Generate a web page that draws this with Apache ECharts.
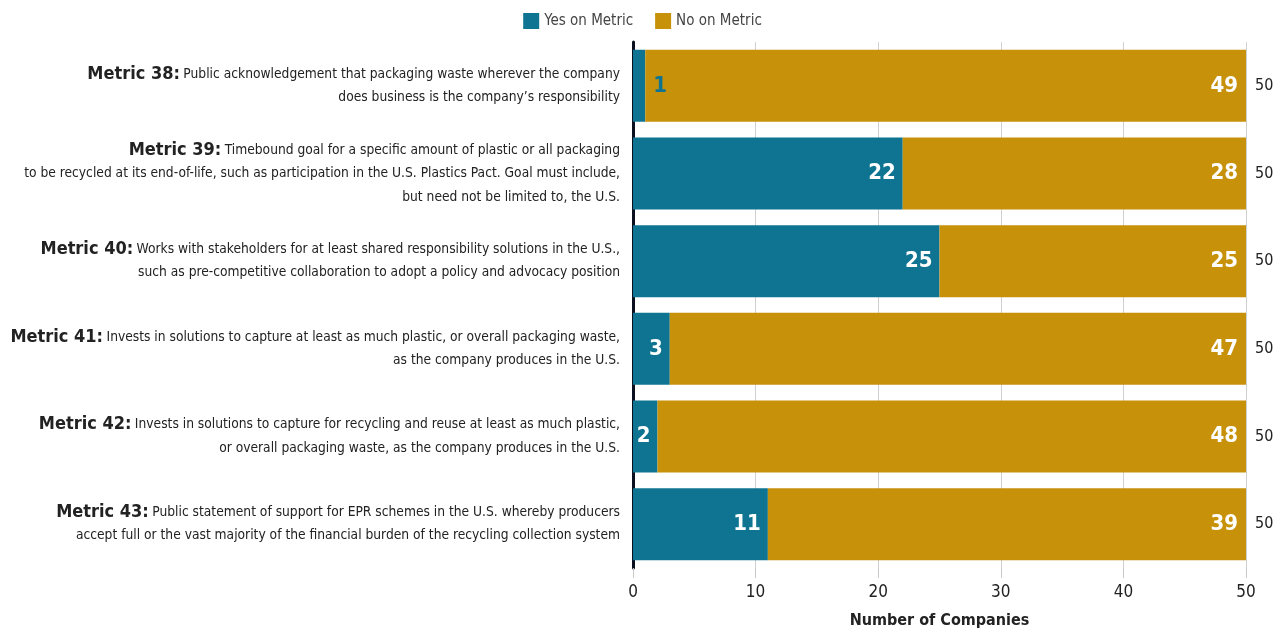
<!DOCTYPE html>
<html>
<head>
    <meta charset="UTF-8">
    <title>Packaging Metrics</title>
    <style>
        body{ margin:0; background-color:#ffffff; }
        #main{ width:1285px; height:632px; }
    </style>
    <script src="https://cdn.jsdelivr.net/npm/echarts@6/dist/echarts.min.js"></script>
</head>
<body>
<div id="main"></div>
<script type="text/javascript">
    // data
    var metricNames = ['Metric 38:', 'Metric 39:', 'Metric 40:', 'Metric 41:', 'Metric 42:', 'Metric 43:'];
    var metricText = [
        ['Public acknowledgement that packaging waste wherever the company', 'does business is the company\u2019s responsibility'],
        ['Timebound goal for a specific amount of plastic or all packaging', 'to be recycled at its end-of-life, such as participation in the U.S. Plastics Pact. Goal must include,', 'but need not be limited to, the U.S.'],
        ['Works with stakeholders for at least shared responsibility solutions in the U.S.,', 'such as pre-competitive collaboration to adopt a policy and advocacy position'],
        ['Invests in solutions to capture at least as much plastic, or overall packaging waste,', 'as the company produces in the U.S.'],
        ['Invests in solutions to capture for recycling and reuse at least as much plastic,', 'or overall packaging waste, as the company produces in the U.S.'],
        ['Public statement of support for EPR schemes in the U.S. whereby producers', 'accept full or the vast majority of the financial burden of the recycling collection system']
    ];
    var yesValues = [1, 22, 25, 3, 2, 11];
    var noValues = [49, 28, 25, 47, 48, 39];
    var xTicks = [0, 10, 20, 30, 40, 50];

    var FONT = "'Liberation Sans Narrow', 'DejaVu Sans Condensed', 'Roboto', sans-serif";
    var TEAL = '#0f7491';
    var GOLD = '#c7910a';

    var totals = yesValues.map(function (v, i) { return v + noValues[i]; });

    var yesData = yesValues.map(function (v) {
        if (v < 2) {
            return { value: v, label: { position: 'right', distance: 8, color: TEAL } };
        }
        return v;
    });

    var myChart = echarts.init(document.getElementById('main'));

    var option = {
        backgroundColor: '#ffffff',
        textStyle: { fontFamily: FONT },
        legend: {
            top: 8,
            left: 'center',
            itemWidth: 16,
            itemHeight: 16,
            itemGap: 22,
            icon: 'rect',
            textStyle: { fontFamily: FONT, fontSize: 15, color: '#444' },
            data: ['Yes on Metric', 'No on Metric']
        },
        grid: { left: 633, right: 39, top: 42, bottom: 64, containLabel: false, outerBoundsMode: 'none' },
        xAxis: {
            type: 'value',
            min: 0,
            max: 50,
            interval: 10,
            name: 'Number of Companies',
            nameLocation: 'middle',
            nameGap: 45,
            nameTextStyle: { fontFamily: FONT, fontSize: 16, fontWeight: 'bold', color: '#222' },
            axisLine: { show: false },
            axisTick: { show: true, length: 10, lineStyle: { color: '#c8c8c8' } },
            axisLabel: {
                fontFamily: FONT, fontSize: 17, color: '#222', margin: 16,
                formatter: function (v) { return xTicks.indexOf(v) >= 0 ? String(v) : ''; }
            },
            splitLine: { show: true, lineStyle: { color: '#d0d0d0', width: 1 } }
        },
        yAxis: [
            {
                type: 'category',
                inverse: true,
                data: metricNames,
                axisLine: { show: true, lineStyle: { color: '#0b1020', width: 3 } },
                axisTick: { show: false },
                axisLabel: {
                    margin: 13,
                    align: 'right',
                    formatter: function (value, idx) {
                        var lines = metricText[idx];
                        var out = '{b|' + value + '} {n|' + lines[0] + '}';
                        for (var i = 1; i < lines.length; i++) {
                            out += '\n{n|' + lines[i] + '}';
                        }
                        return out;
                    },
                    rich: {
                        b: { fontFamily: FONT, fontSize: 18, fontWeight: 'bold', color: '#222', lineHeight: 23.5 },
                        n: { fontFamily: FONT, fontSize: 13.7, color: '#222', lineHeight: 23.5 }
                    }
                }
            },
            {
                type: 'category',
                inverse: true,
                position: 'right',
                data: totals,
                axisLine: { show: false },
                axisTick: { show: false },
                axisLabel: { fontFamily: FONT, fontSize: 16, color: '#222', margin: 9 }
            }
        ],
        series: [
            {
                name: 'Yes on Metric',
                type: 'bar',
                stack: 'total',
                barWidth: 72,
                itemStyle: { color: TEAL },
                label: {
                    show: true,
                    position: 'insideRight',
                    distance: 7,
                    fontFamily: FONT,
                    fontSize: 22,
                    fontWeight: 'bold',
                    color: '#ffffff'
                },
                data: yesData
            },
            {
                name: 'No on Metric',
                type: 'bar',
                stack: 'total',
                barWidth: 72,
                itemStyle: { color: GOLD },
                label: {
                    show: true,
                    position: 'insideRight',
                    distance: 8,
                    fontFamily: FONT,
                    fontSize: 22,
                    fontWeight: 'bold',
                    color: '#ffffff'
                },
                data: noValues
            }
        ]
    };
    myChart.setOption(option);
</script>
</body>
</html>
